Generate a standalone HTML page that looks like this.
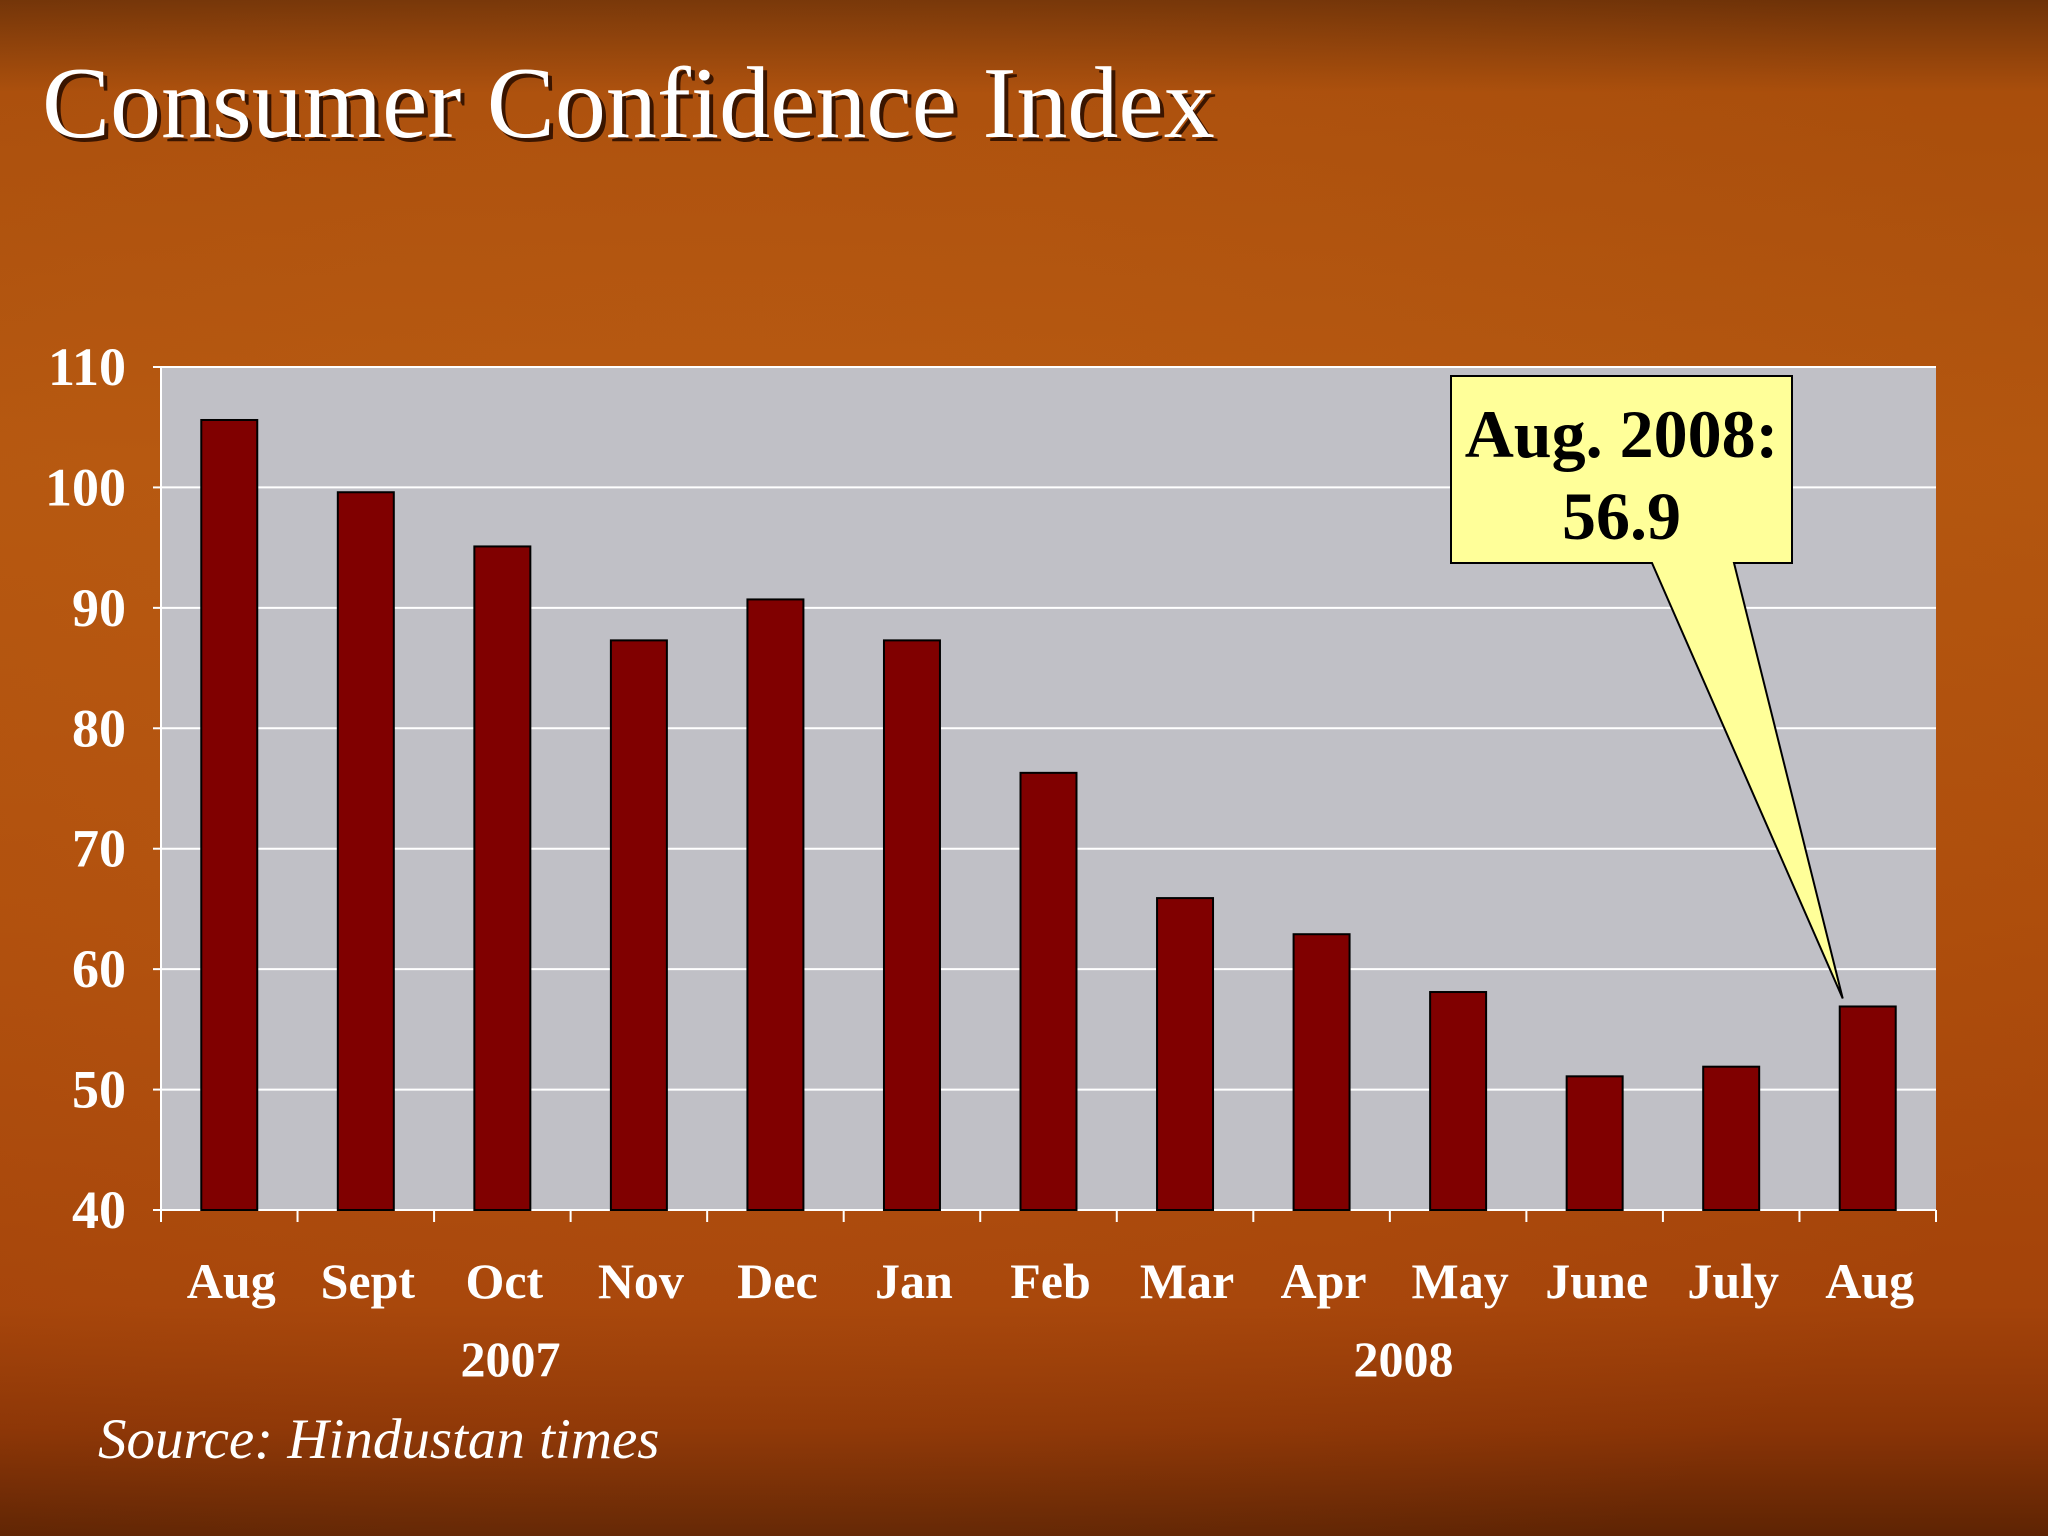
<!DOCTYPE html>
<html><head><meta charset="utf-8"><style>
html,body{margin:0;padding:0;width:2048px;height:1536px;overflow:hidden;}
body{background:linear-gradient(180deg,#6e3208 0%,#a94e0c 6%,#b3560f 30%,#ad4d0c 60%,#a4430a 85%,#8a3406 93%,#5e2404 100%);}
svg{position:absolute;left:0;top:0;}
</style></head><body>
<svg id="chart" width="2048" height="1536" xmlns="http://www.w3.org/2000/svg">
<defs>
<radialGradient id="glow" cx="0.35" cy="0.45" r="0.7"><stop offset="0" stop-color="#c8661a" stop-opacity="0.35"/><stop offset="1" stop-color="#c8661a" stop-opacity="0"/></radialGradient>
</defs>
<rect x="0" y="0" width="2048" height="1536" fill="url(#glow)"/>
<text x="46" y="141" font-family="Liberation Serif, serif" font-size="102" fill="#3a1500">Consumer Confidence Index</text>
<text x="42" y="137" font-family="Liberation Serif, serif" font-size="102" fill="#ffffff">Consumer Confidence Index</text>
<g id="plot"></g>
<text x="98" y="1458" font-family="Liberation Serif, serif" font-style="italic" font-size="57" fill="#ffffff">Source: Hindustan times</text>
</svg>
<script>
const categories = ["Aug","Sept","Oct","Nov","Dec","Jan","Feb","Mar","Apr","May","June","July","Aug"];
const values = [105.6,99.6,95.1,87.3,90.7,87.3,76.3,65.9,62.9,58.1,51.1,51.9,56.9];
const yTicks = [40,50,60,70,80,90,100,110];
const yearLabels = ["2007","2008"];
const yearCenters = [2.06,8.6];
const calloutLines = ["Aug. 2008:","56.9"];

const NS="http://www.w3.org/2000/svg";
const g=document.getElementById('plot');
const L=161,R=1936,T=367,B=1210,yMin=40,yMax=110;
const slot=(R-L)/categories.length;
const y=v=>B-(v-yMin)/(yMax-yMin)*(B-T);
const xc=i=>L+slot*(i+0.5);
function mk(tag,attrs){const e=document.createElementNS(NS,tag);for(const k in attrs)e.setAttribute(k,attrs[k]);g.appendChild(e);return e;}

let e=mk('rect',{x:L,y:T,width:R-L,height:B-T,fill:'#c0c0c6'});


yTicks.forEach(t=>{
  if(t>yMin){const l=mk('line',{x1:L,x2:R,y1:y(t),y2:y(t),stroke:'#ffffff','stroke-width':2});
  
  }
  const tx=mk('text',{x:126,y:y(t)+18,'text-anchor':'end','font-family':'Liberation Serif, serif','font-weight':'bold','font-size':54,fill:'#ffffff'});
  tx.textContent=t;
  
  
  const tk=mk('line',{x1:L-8,x2:L,y1:y(t),y2:y(t),stroke:'#ffffff','stroke-width':2});
  
  
});
e=mk('line',{x1:L,x2:L,y1:T,y2:B,stroke:'#ffffff','stroke-width':2});


e=mk('line',{x1:L,x2:R,y1:B,y2:B,stroke:'#ffffff','stroke-width':2});


for(let i=0;i<=categories.length;i++){
  const tk=mk('line',{x1:L+slot*i,x2:L+slot*i,y1:B,y2:B+12,stroke:'#ffffff','stroke-width':2});
  
  
}
const bw=slot*0.41;
values.forEach((v,i)=>{
  const r=mk('rect',{x:xc(i)-bw/2,y:y(v),width:bw,height:B-y(v),fill:'#800000',stroke:'#000000','stroke-width':2});
  
  
  const t=mk('text',{x:xc(i)+2,y:1298,'text-anchor':'middle','font-family':'Liberation Serif, serif','font-weight':'bold','font-size':50,fill:'#ffffff'});
  t.textContent=categories[i];
  
  
});
yearLabels.forEach((lab,k)=>{
  const t=mk('text',{x:xc(yearCenters[k]),y:1376,'text-anchor':'middle','font-family':'Liberation Serif, serif','font-weight':'bold','font-size':50,fill:'#ffffff'});
  t.textContent=lab;
  
  
});
const last=values.length-1;
const tipX=xc(last)-25,tipY=y(values[last])-8;
const bx=1451,by=376,bwid=341,bh=187;
const poly=mk('path',{d:`M${bx},${by} H${bx+bwid} V${by+bh} H${bx+283} L${tipX},${tipY} L${bx+201},${by+bh} H${bx} Z`,fill:'#ffff99',stroke:'#000000','stroke-width':2});


calloutLines.forEach((s,k)=>{
  const t=mk('text',{x:bx+bwid/2,y:by+81+k*82,'text-anchor':'middle','font-family':'Liberation Serif, serif','font-weight':'bold','font-size':68,fill:'#000000'});
  t.textContent=s;
  
  
});
</script>
</body></html>
